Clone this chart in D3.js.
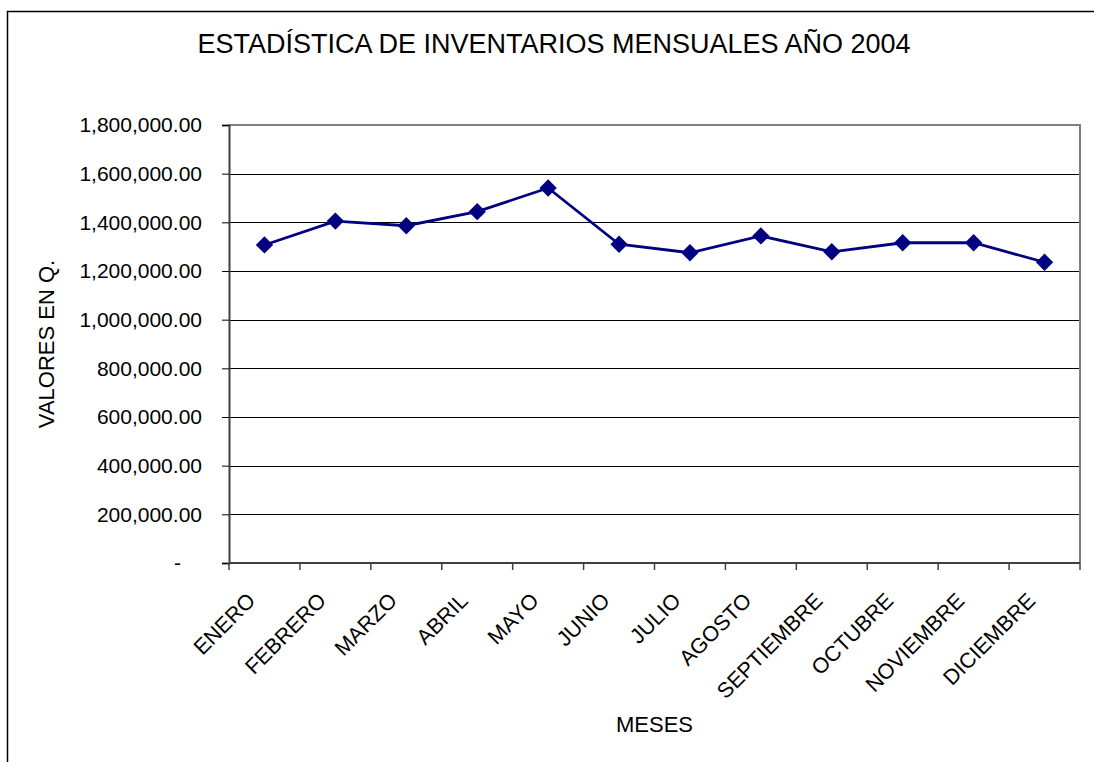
<!DOCTYPE html>
<html>
<head>
<meta charset="utf-8">
<script src="https://cdn.jsdelivr.net/npm/d3@7"></script>
<style>
  body { margin: 0; background: #fff; }
  text { font-family: "Liberation Sans", Arial, sans-serif; fill: #000; }
</style>
</head>
<body>
<svg id="chart" width="1094" height="762"></svg>
<script>
  const months = ["ENERO", "FEBRERO", "MARZO", "ABRIL", "MAYO", "JUNIO", "JULIO",
    "AGOSTO", "SEPTIEMBRE", "OCTUBRE", "NOVIEMBRE", "DICIEMBRE"];
  const inventario = [1307000, 1405000, 1386000, 1444000, 1541000, 1310000, 1275000,
    1344000, 1279000, 1316000, 1316000, 1236000];
  const yTicks = [0, 200000, 400000, 600000, 800000, 1000000, 1200000, 1400000, 1600000, 1800000];

  const svg = d3.select("#chart");
  const plot = { left: 229, right: 1080, top: 125, bottom: 563 };

  // outer chart frame (runs off the page at right and bottom)
  svg.append("rect")
    .attr("x", 7.5).attr("y", 11.5)
    .attr("width", 1200).attr("height", 900)
    .attr("fill", "none").attr("stroke", "#000").attr("stroke-width", 1.5);

  const x = d3.scaleBand().domain(months).range([plot.left, plot.right]);
  const y = d3.scaleLinear().domain([0, 1800000]).range([plot.bottom, plot.top]);

  const fmt = d3.format(",.2f");

  // gridlines
  svg.append("g")
    .selectAll("line")
    .data(yTicks.filter(d => d > 0 && d < 1800000))
    .join("line")
    .attr("x1", plot.left).attr("x2", plot.right)
    .attr("y1", d => Math.round(y(d)) + 0.5).attr("y2", d => Math.round(y(d)) + 0.5)
    .attr("stroke", "#000").attr("stroke-width", 1);

  // plot area border, top and right
  svg.append("path")
    .attr("d", `M${plot.left},${plot.top}H${plot.right}V${plot.bottom}`)
    .attr("fill", "none").attr("stroke", "#808080").attr("stroke-width", 2);

  // y axis
  const yAxis = svg.append("g")
    .attr("transform", `translate(${plot.left},0)`)
    .call(d3.axisLeft(y).tickValues(yTicks).tickSize(7).tickPadding(20)
      .tickFormat(d => d === 0 ? "-" : fmt(d)));
  yAxis.select(".domain").attr("stroke", "#404040").attr("stroke-width", 2);
  yAxis.selectAll(".tick line").attr("stroke", "#000");
  yAxis.selectAll(".tick text")
    .attr("font-size", 21)
    .attr("font-family", "Liberation Sans, Arial, sans-serif")
    .attr("fill", "#000")
    .attr("dx", d => d === 0 ? -21 : 0);

  // x axis with ticks at category boundaries
  const xg = svg.append("g").attr("transform", `translate(0,${plot.bottom})`);
  xg.append("line")
    .attr("x1", plot.left).attr("x2", plot.right)
    .attr("stroke", "#404040").attr("stroke-width", 2);
  const bounds = months.map(m => x(m)).concat([plot.right]);
  xg.selectAll("line.tk")
    .data(bounds)
    .join("line").attr("class", "tk")
    .attr("x1", d => d).attr("x2", d => d)
    .attr("y1", 0).attr("y2", 7)
    .attr("stroke", "#404040").attr("stroke-width", 1.5);

  svg.append("g")
    .selectAll("text")
    .data(months)
    .join("text")
    .attr("transform", d => `translate(${x(d) + x.bandwidth() / 2 - 8},602) rotate(-45)`)
    .attr("text-anchor", "end")
    .attr("font-size", 21.5)
    .text(d => d);

  // line + markers
  const pts = months.map((m, i) => ({ m, v: inventario[i] }));
  const line = d3.line()
    .x(d => x(d.m) + x.bandwidth() / 2)
    .y(d => y(d.v));

  svg.append("path")
    .datum(pts)
    .attr("d", line)
    .attr("fill", "none")
    .attr("stroke", "#000080")
    .attr("stroke-width", 2.8);

  const diamond = d3.symbol().type(d3.symbolSquare).size(150);
  svg.append("g")
    .selectAll("path")
    .data(pts)
    .join("path")
    .attr("d", diamond)
    .attr("transform", d => `translate(${x(d.m) + x.bandwidth() / 2},${y(d.v)}) rotate(45)`)
    .attr("fill", "#000080");

  // titles
  svg.append("text")
    .attr("x", 554).attr("y", 53)
    .attr("text-anchor", "middle")
    .attr("font-size", 27)
    .text("ESTADÍSTICA DE INVENTARIOS MENSUALES AÑO 2004");

  svg.append("text")
    .attr("transform", `translate(54,${(plot.top + plot.bottom) / 2}) rotate(-90)`)
    .attr("text-anchor", "middle")
    .attr("font-size", 22)
    .text("VALORES EN Q.");

  svg.append("text")
    .attr("x", (plot.left + plot.right) / 2).attr("y", 732)
    .attr("text-anchor", "middle")
    .attr("font-size", 22)
    .text("MESES");
</script>
</body>
</html>
